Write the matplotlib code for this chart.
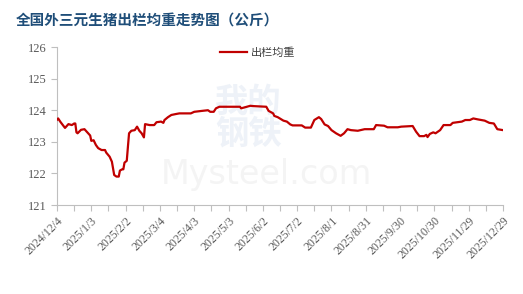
import matplotlib
matplotlib.use("Agg")
import matplotlib.pyplot as plt
import pandas as pd

plt.rcParams['font.family'] = ['Noto Sans CJK SC', 'DejaVu Sans']

# 出栏均重 (公斤)
dates = [
    "2024-12-04", "2024-12-05", "2024-12-07", "2024-12-11", "2024-12-14", "2024-12-17",
    "2024-12-19", "2024-12-20", "2024-12-21", "2024-12-22", "2024-12-25", "2024-12-28",
    "2024-12-30", "2025-01-02", "2025-01-03", "2025-01-05", "2025-01-07", "2025-01-09",
    "2025-01-12", "2025-01-15", "2025-01-16", "2025-01-19", "2025-01-21", "2025-01-22",
    "2025-01-23", "2025-01-25", "2025-01-27", "2025-01-28", "2025-01-30", "2025-01-31",
    "2025-02-01", "2025-02-03", "2025-02-04", "2025-02-05", "2025-02-07", "2025-02-10",
    "2025-02-12", "2025-02-14", "2025-02-16", "2025-02-18", "2025-02-19", "2025-02-23",
    "2025-02-27", "2025-03-01", "2025-03-05", "2025-03-07", "2025-03-08", "2025-03-11",
    "2025-03-14", "2025-03-18", "2025-03-21", "2025-03-31", "2025-04-03", "2025-04-10",
    "2025-04-15", "2025-04-17", "2025-04-20", "2025-04-22", "2025-04-25", "2025-05-13",
    "2025-05-14", "2025-05-19", "2025-05-22", "2025-05-25", "2025-06-05", "2025-06-07",
    "2025-06-08", "2025-06-11", "2025-06-12", "2025-06-15", "2025-06-20", "2025-06-23",
    "2025-06-26", "2025-06-28", "2025-07-06", "2025-07-09", "2025-07-14", "2025-07-17",
    "2025-07-21", "2025-07-23", "2025-07-26", "2025-07-29", "2025-08-01", "2025-08-05",
    "2025-08-09", "2025-08-12", "2025-08-15", "2025-08-18", "2025-08-24", "2025-08-30",
    "2025-09-07", "2025-09-09", "2025-09-16", "2025-09-19", "2025-09-28", "2025-10-01",
    "2025-10-11", "2025-10-14", "2025-10-17", "2025-10-21", "2025-10-23", "2025-10-24",
    "2025-10-26", "2025-10-29", "2025-10-31", "2025-11-04", "2025-11-07", "2025-11-13",
    "2025-11-15", "2025-11-23", "2025-11-26", "2025-11-30", "2025-12-03", "2025-12-07",
    "2025-12-13", "2025-12-17", "2025-12-21", "2025-12-24", "2025-12-29",
]
weights = [
    123.70, 123.74, 123.63, 123.44, 123.56, 123.53,
    123.58, 123.58, 123.30, 123.27, 123.38, 123.40,
    123.32, 123.20, 123.03, 123.05, 122.90, 122.80,
    122.74, 122.74, 122.66, 122.53, 122.37, 122.16,
    121.95, 121.90, 121.90, 122.09, 122.13, 122.13,
    122.34, 122.40, 122.84, 123.27, 123.35, 123.37,
    123.48, 123.35, 123.27, 123.14, 123.56, 123.53,
    123.53, 123.62, 123.64, 123.60, 123.69, 123.78,
    123.85, 123.88, 123.90, 123.90, 123.95, 123.98,
    124.00, 123.95, 123.95, 124.06, 124.11, 124.11,
    124.06, 124.11, 124.14, 124.13, 124.11, 123.98,
    123.96, 123.90, 123.82, 123.78, 123.67, 123.64,
    123.55, 123.52, 123.52, 123.45, 123.45, 123.69,
    123.78, 123.72, 123.55, 123.50, 123.37, 123.27,
    123.19, 123.27, 123.40, 123.37, 123.35, 123.40,
    123.40, 123.53, 123.51, 123.46, 123.46, 123.48,
    123.50, 123.32, 123.18, 123.18, 123.22, 123.15,
    123.25, 123.30, 123.27, 123.37, 123.53, 123.53,
    123.60, 123.64, 123.69, 123.69, 123.74, 123.71,
    123.67, 123.60, 123.58, 123.40, 123.37,
]

start = pd.Timestamp("2024-12-04")
end = pd.Timestamp("2025-12-29")
label_dates = pd.date_range(start, end, freq="30D")
minor_dates = pd.date_range(start, end, freq="15D")
y_ticks = [121, 122, 123, 124, 125, 126]

fig = plt.figure(figsize=(5.23, 2.94), dpi=100)
ax = fig.add_axes([0.109, 0.3027, 0.8528, 0.5373])

# faint watermark
ax.text(0.43, 0.55, "我的\n钢铁", transform=ax.transAxes, ha="center", va="center",
        fontsize=24, color="#eef2f8", fontweight="bold", zorder=0, linespacing=0.95)
ax.text(0.47, 0.19, "Mysteel.com", transform=ax.transAxes, ha="center", va="center",
        fontsize=24, color="#f4f4f4", zorder=0, family="DejaVu Sans")

ax.plot(pd.to_datetime(dates), weights, color="#C00000", lw=1.6, label="出栏均重", zorder=3)

ax.set_xlim(start, end)
ax.set_ylim(121, 126)
ax.set_yticks(y_ticks)
ax.set_yticklabels([str(t) for t in y_ticks], family="Liberation Serif", fontsize=9, color="#595959")

ax.set_xticks(minor_dates)
ax.set_xticklabels([f"{d.year}/{d.month}/{d.day}" if d in label_dates else "" for d in minor_dates],
                   family="Liberation Serif", fontsize=8.5, color="#595959",
                   rotation=45, ha="right", va="top", rotation_mode="anchor")

for s in ["top", "right"]:
    ax.spines[s].set_visible(False)
for s in ["left", "bottom"]:
    ax.spines[s].set_color("#bfbfbf")
    ax.spines[s].set_linewidth(0.8)
ax.tick_params(axis="both", color="#bfbfbf", length=4, width=0.8)
ax.tick_params(axis="x", pad=3)

leg = ax.legend(loc="upper center", bbox_to_anchor=(0.45, 1.06), frameon=False,
                fontsize=8, handlelength=2.4, handletextpad=0.4)
for t in leg.get_texts():
    t.set_color("#404040")

fig.text(0.03, 0.93, "全国外三元生猪出栏均重走势图（公斤）", fontsize=10.5, fontweight="bold",
         color="#1F4E79", ha="left", va="center")

fig.savefig("out.png", dpi=100)
